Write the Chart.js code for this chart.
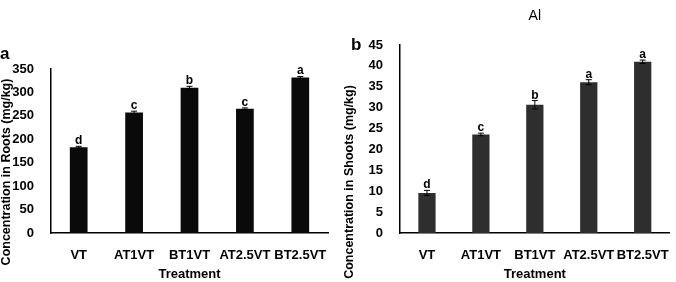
<!DOCTYPE html>
<html>
<head>
<meta charset="utf-8">
<script src="https://cdn.jsdelivr.net/npm/chart.js@4"></script>
<style>
  body { margin: 0; background: #fff; }
  .wrap { position: absolute; top: 0; height: 282px; }
</style>
</head>
<body>
<div class="wrap" style="left:0;width:340px;"><canvas id="roots"></canvas></div>
<div class="wrap" style="left:340px;width:336px;"><canvas id="shoots"></canvas></div>
<script>
const treatments = ['VT', 'AT1VT', 'BT1VT', 'AT2.5VT', 'BT2.5VT'];

const rootValues = [183, 257, 310, 265, 332];
const rootErrors = [2, 3, 3, 2, 2];
const rootLetters = ['d', 'c', 'b', 'c', 'a'];

const shootValues = [9.6, 23.6, 30.7, 36.1, 41.0];
const shootErrors = [0.6, 0.3, 1.0, 0.6, 0.4];
const shootLetters = ['d', 'c', 'b', 'a', 'a'];

const FONT = '"Liberation Sans", Arial, sans-serif';

// error bars + significance letters + fixed texts
const extras = {
  id: 'extras',
  afterDatasetsDraw(chart, args, opts) {
    const ctx = chart.ctx;
    const x = chart.scales.x, y = chart.scales.y;
    const vals = chart.data.datasets[0].data;
    ctx.save();
    ctx.strokeStyle = '#000';
    ctx.lineWidth = 1;
    ctx.fillStyle = '#000';
    ctx.font = 'bold 12px ' + FONT;
    ctx.textAlign = 'center';
    ctx.textBaseline = 'alphabetic';
    vals.forEach((v, i) => {
      const cx = x.getPixelForValue(i);
      const top = y.getPixelForValue(v + opts.errors[i]);
      const bot = y.getPixelForValue(v - opts.errors[i]);
      ctx.beginPath();
      ctx.moveTo(cx, top); ctx.lineTo(cx, bot);
      ctx.moveTo(cx - 3, top); ctx.lineTo(cx + 3, top);
      ctx.moveTo(cx - 3, bot); ctx.lineTo(cx + 3, bot);
      ctx.stroke();
      ctx.fillText(opts.letters[i], cx, top - 2);
    });
    // y axis title
    ctx.font = 'bold 12.5px ' + FONT;
    ctx.save();
    ctx.translate(opts.yTitleX, opts.yTitleY);
    ctx.rotate(-Math.PI / 2);
    ctx.textBaseline = 'middle';
    ctx.fillText(opts.yTitle, 0, 0);
    ctx.restore();
    // panel letter
    ctx.font = 'bold 17px ' + FONT;
    ctx.textAlign = 'left';
    ctx.fillText(opts.panel, opts.panelX, opts.panelY);
    if (opts.top) {
      ctx.font = '14px ' + FONT;
      ctx.textAlign = 'center';
      ctx.fillText(opts.top, (chart.chartArea.left + chart.chartArea.right) / 2, 20);
    }
    ctx.restore();
  }
};

function makeChart(id, values, color, max, step, yWidth, padRight, padTop, extraOpts) {
  return new Chart(document.getElementById(id), {
    type: 'bar',
    data: {
      labels: treatments,
      datasets: [{
        data: values,
        backgroundColor: color,
        barPercentage: 0.32,
        categoryPercentage: 1
      }]
    },
    options: {
      responsive: true,
      maintainAspectRatio: false,
      animation: false,
      layout: { padding: { left: 0, right: padRight, top: padTop, bottom: 0 } },
      plugins: {
        legend: { display: false },
        tooltip: { enabled: false },
        extras: extraOpts
      },
      scales: {
        x: {
          grid: { display: false },
          border: { color: '#000', width: 1.5 },
          ticks: { color: '#000', font: { family: FONT, size: 13, weight: 'bold' }, padding: 7, maxRotation: 0, autoSkip: false },
          title: { display: true, text: 'Treatment', color: '#000', font: { family: FONT, size: 13, weight: 'bold' }, padding: 0 },
          afterFit: s => { s.height = 49; }
        },
        y: {
          min: 0, max: max,
          grid: { display: false },
          border: { color: '#000', width: 1.5 },
          ticks: { stepSize: step, color: '#000', font: { family: FONT, size: 13, weight: 'bold' }, padding: 9 },
          afterFit: s => { s.width = yWidth; }
        }
      }
    },
    plugins: [extras]
  });
}

makeChart('roots', rootValues, '#0a0a0a', 350, 50, 51, 12, 69, {
  errors: rootErrors, letters: rootLetters,
  yTitle: 'Concentration in Roots (mg/kg)', yTitleX: 7, yTitleY: 172,
  panel: 'a', panelX: 0, panelY: 59
});

makeChart('shoots', shootValues, '#2e2e2e', 45, 5, 60, 3, 45, {
  errors: shootErrors, letters: shootLetters,
  yTitle: 'Concentration in Shoots (mg/kg)', yTitleX: 10, yTitleY: 182,
  panel: 'b', panelX: 11, panelY: 50, top: 'Al'
});
</script>
</body>
</html>
